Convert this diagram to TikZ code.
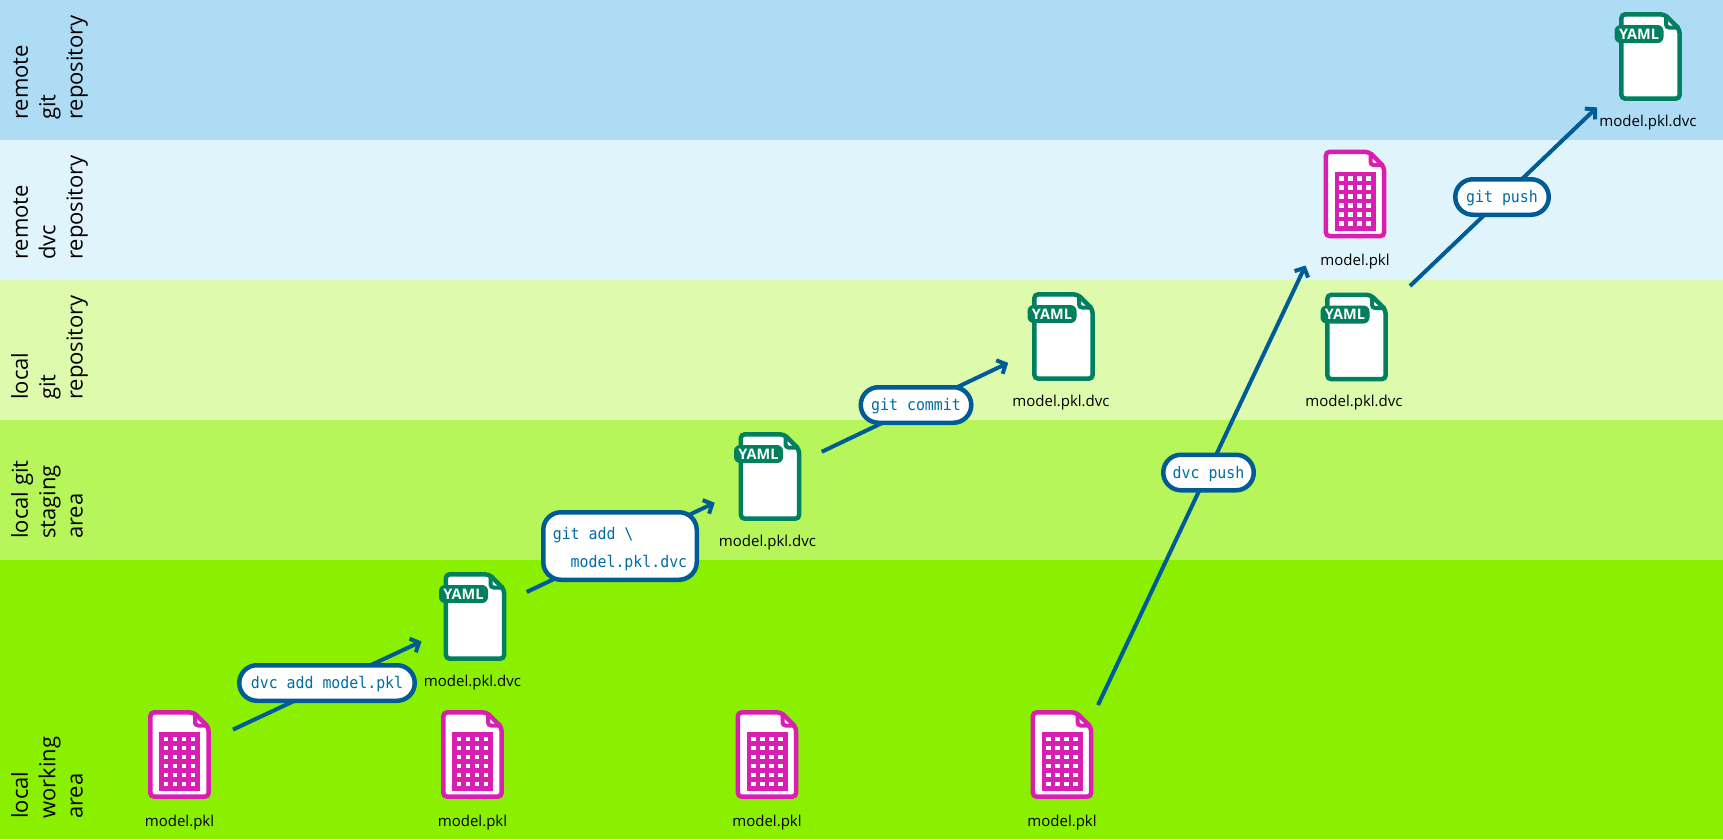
\documentclass[tikz,border=0pt]{standalone}
\usepackage{fontspec}
\setmainfont{Open Sans}
\setmonofont[FakeStretch=0.93]{DejaVu Sans Mono}
\usetikzlibrary{arrows.meta,calc,positioning}

\definecolor{bandremotegit}{HTML}{AEDCF5}
\definecolor{bandremotedvc}{HTML}{E0F4FC}
\definecolor{bandlocalgit}{HTML}{DDFAAD}
\definecolor{bandstaging}{HTML}{B7F65B}
\definecolor{bandworking}{HTML}{8AF000}
\definecolor{pklpink}{HTML}{D91FB1}
\definecolor{yamlgreen}{HTML}{00805E}
\definecolor{flowblue}{HTML}{005C96}
\definecolor{cmdblue}{HTML}{006CA6}

\newcommand{\filebody}[1]{%
   \draw[draw=#1, line width=4.5pt, fill=white, rounded corners=4pt] (-29.2,-42.2) -- (14,-42.2) -- (29.2,-27) -- (29.2,42.2) -- (-29.2,42.2) -- cycle;
   \draw[draw=#1, line width=4pt, rounded corners=3pt] (15.5,-42) -- (15.5,-29) -- (29,-29);
}

\tikzset{
   fileicon/.style={minimum width=63pt, minimum height=89pt, inner sep=0pt, outer sep=22pt},
   filename/.style={font=\fontsize{15}{18}\selectfont, inner sep=0pt, anchor=base},
   bandname/.style={font=\fontsize{22}{27.4}\selectfont, rotate=90, align=left, inner sep=0pt, anchor=north west},
   flow/.style={draw=flowblue, line width=4pt, -{Straight Barb[length=7pt,width=15pt]}},
   cmd/.style={draw=flowblue, line width=4.5pt, fill=white, text=cmdblue, font=\fontsize{16}{27.5}\selectfont\ttfamily, inner sep=0pt, minimum height=35.5pt, rounded corners=17.7pt, text height=11.5pt, text depth=0.5pt},
   pklicon/.pic={
      \filebody{pklpink}
      \fill[pklpink] (-20.5,-22.5) rectangle (20.5,36.5);
      \foreach \col in {-13.4,-4.5,4.4,13.3} {
         \foreach \row in {-15.5,-6.5,2.5,11.5,20.5,29.5} {
            \fill[white] (\col-2.2,\row-2.2) rectangle (\col+2.2,\row+2.2);
         }
      }
   },
   yamlicon/.pic={
      \filebody{yamlgreen}
      \node[fill=yamlgreen, text=white, font=\fontsize{14.5}{16}\selectfont\bfseries, inner sep=0pt, minimum width=49pt, minimum height=18pt, rounded corners=6pt] (-yamltab) at (-11.5,-22.5) {YAML};
   }
}

\begin{document}
\begin{tikzpicture}[x=1pt, y=-1pt]
   \useasboundingbox (0,0) rectangle (1723,839);

   % bands
   \fill[bandremotegit] (0,0) rectangle (1723,140);
   \fill[bandremotedvc] (0,140) rectangle (1723,280);
   \fill[bandlocalgit] (0,280) rectangle (1723,420);
   \fill[bandstaging] (0,420) rectangle (1723,560);
   \fill[bandworking] (0,560) rectangle (1723,839);

   \node[bandname] (remotegitname) at (8.5,120) {\strut remote\\git\\repository\strut};
   \node[bandname] (remotedvcname) at (8.5,260) {\strut remote\\dvc\\repository\strut};
   \node[bandname] (localgitname) at (8.5,400) {\strut local\\git\\repository\strut};
   \node[bandname] (stagingname) at (8.5,539) {\strut local git\\staging\\area\strut};
   \node[bandname] (workingname) at (8.5,819) {\strut local\\working\\area\strut};

   % files
   \node[fileicon] (pkla) at (179.5,754.5) {};
   \node[fileicon] (pklb) at (472.5,754.5) {};
   \node[fileicon] (pklc) at (767,754.5) {};
   \node[fileicon] (pkld) at (1062,754.5) {};
   \node[fileicon] (pkle) at (1355,194) {};
   \node[fileicon] (dvca) at (475,616.5) {};
   \node[fileicon] (dvcb) at (770,476.5) {};
   \node[fileicon] (dvcc) at (1063.5,336.5) {};
   \node[fileicon] (dvcd) at (1356.5,337) {};
   \node[fileicon] (dvce) at (1650.5,56.5) {};

   \foreach \name in {pkla,pklb,pklc,pkld,pkle} {
      \pic at (\name) {pklicon};
      \node[filename, below=71.5pt of \name.center, anchor=base] (\name label) {model.pkl};
   }
   \foreach \name in {dvca,dvcb,dvcc,dvcd,dvce} {
      \pic (\name) at (\name) {yamlicon};
      \node[filename, below=69.5pt of \name.center, anchor=base, xshift=-2.5pt] (\name label) {model.pkl.dvc};
   }

   % steps
   \coordinate (pushfrom) at ($(pkld)+(36,-49.5)$);
   \coordinate (pushto) at ($(pkle)+(-49.5,71.5)$);

   \draw[flow] (pkla) -- (dvca);
   \draw[flow, shorten <=-2pt, shorten >=2pt] (dvca) -- (dvcb);
   \draw[flow, shorten <=-2pt, shorten >=2pt] (dvcb) -- (dvcc);
   \draw[flow] (pushfrom) -- (pushto);
   \draw[flow] (dvcd) -- (dvce);

   \node[cmd, minimum width=175.5pt] (dvcadd) at (327,683) {dvc add model.pkl};
   \node[cmd, minimum width=153.5pt, minimum height=67.5pt, align=left, text height=42.5pt, text depth=0.5pt] (gitadd) at (620,546) {git add \textbackslash\\~~model.pkl.dvc};
   \node[cmd, minimum width=110.5pt] (gitcommit) at (916,405) {git commit};
   \node[cmd, minimum width=90.5pt] (dvcpush) at (1208.5,472.5) {dvc push};
   \node[cmd, minimum width=93.5pt] (gitpush) at (1502,197) {git push};
\end{tikzpicture}
\end{document}
